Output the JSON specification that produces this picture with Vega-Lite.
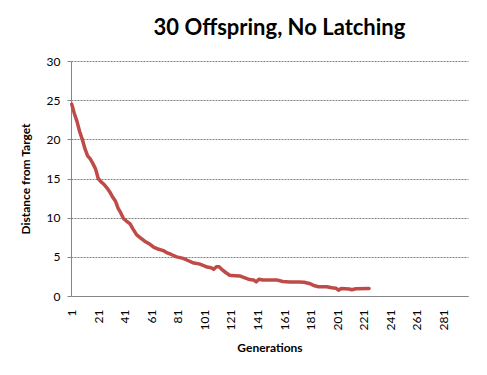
{
  "$schema": "https://vega.github.io/schema/vega-lite/v6.json",
  "width": 397,
  "height": 235,
  "autosize": "none",
  "padding": {"left": 71, "top": 61, "right": 19, "bottom": 79},
  "background": "white",
  "title": {
    "text": "30 Offspring, No Latching",
    "font": "Lato",
    "fontSize": 22,
    "fontWeight": "bold",
    "color": "#000000",
    "anchor": "middle",
    "frame": "group",
    "dx": 10,
    "offset": 15
  },
  "data": {
    "values": [
      {"gen": 1, "dist": 24.5},
      {"gen": 3, "dist": 23.3},
      {"gen": 5, "dist": 22.3},
      {"gen": 7, "dist": 21.0},
      {"gen": 9, "dist": 20.0},
      {"gen": 11, "dist": 18.8},
      {"gen": 13, "dist": 17.9},
      {"gen": 15, "dist": 17.5},
      {"gen": 17, "dist": 16.9},
      {"gen": 19, "dist": 16.2},
      {"gen": 21, "dist": 15.0},
      {"gen": 23, "dist": 14.6},
      {"gen": 25, "dist": 14.3},
      {"gen": 28, "dist": 13.7},
      {"gen": 30, "dist": 13.2},
      {"gen": 32, "dist": 12.6},
      {"gen": 34, "dist": 12.1},
      {"gen": 36, "dist": 11.2},
      {"gen": 38, "dist": 10.6},
      {"gen": 40, "dist": 9.9},
      {"gen": 42, "dist": 9.6},
      {"gen": 45, "dist": 9.2},
      {"gen": 47, "dist": 8.6},
      {"gen": 50, "dist": 7.8},
      {"gen": 53, "dist": 7.4},
      {"gen": 56, "dist": 7.0},
      {"gen": 60, "dist": 6.6},
      {"gen": 63, "dist": 6.2},
      {"gen": 66, "dist": 6.0},
      {"gen": 70, "dist": 5.8},
      {"gen": 73, "dist": 5.5},
      {"gen": 76, "dist": 5.3},
      {"gen": 80, "dist": 5.0},
      {"gen": 85, "dist": 4.8},
      {"gen": 89, "dist": 4.5},
      {"gen": 93, "dist": 4.2},
      {"gen": 97, "dist": 4.1},
      {"gen": 100, "dist": 3.9},
      {"gen": 103, "dist": 3.7},
      {"gen": 106, "dist": 3.6},
      {"gen": 108, "dist": 3.4},
      {"gen": 110, "dist": 3.75},
      {"gen": 112, "dist": 3.75},
      {"gen": 114, "dist": 3.4},
      {"gen": 117, "dist": 3.0},
      {"gen": 120, "dist": 2.65},
      {"gen": 124, "dist": 2.6},
      {"gen": 128, "dist": 2.55},
      {"gen": 131, "dist": 2.35},
      {"gen": 135, "dist": 2.1},
      {"gen": 138, "dist": 2.05},
      {"gen": 140, "dist": 1.8},
      {"gen": 142, "dist": 2.15},
      {"gen": 145, "dist": 2.05},
      {"gen": 150, "dist": 2.03},
      {"gen": 156, "dist": 2.03},
      {"gen": 160, "dist": 1.85},
      {"gen": 165, "dist": 1.8},
      {"gen": 172, "dist": 1.8},
      {"gen": 176, "dist": 1.75},
      {"gen": 180, "dist": 1.6},
      {"gen": 184, "dist": 1.3},
      {"gen": 187, "dist": 1.18},
      {"gen": 193, "dist": 1.18},
      {"gen": 197, "dist": 1.05},
      {"gen": 200, "dist": 1.0},
      {"gen": 202, "dist": 0.75},
      {"gen": 204, "dist": 0.95},
      {"gen": 210, "dist": 0.9},
      {"gen": 212, "dist": 0.8},
      {"gen": 215, "dist": 0.92},
      {"gen": 225, "dist": 0.95}
    ]
  },
  "mark": {"type": "line", "color": "#BE4B48", "strokeWidth": 3.5, "strokeCap": "round", "strokeJoin": "round"},
  "encoding": {
    "x": {
      "field": "gen",
      "type": "quantitative",
      "scale": {"domain": [0.5, 299.5], "nice": false, "zero": false},
      "axis": {
        "title": "Generations",
        "values": [1, 21, 41, 61, 81, 101, 121, 141, 161, 181, 201, 221, 241, 261, 281],
        "labelAngle": -90,
        "labelAlign": "right",
        "labelBaseline": "middle",
        "labelPadding": 13,
        "ticks": false,
        "grid": false,
        "domainColor": "#868686",
        "labelFont": "Lato",
        "labelFontSize": 12,
        "labelColor": "#000000",
        "titleFont": "Lato",
        "titleFontSize": 12,
        "titleFontWeight": "bold",
        "titleColor": "#000000",
        "titlePadding": 13
      }
    },
    "y": {
      "field": "dist",
      "type": "quantitative",
      "scale": {"domain": [0, 30], "nice": false},
      "axis": {
        "title": "Distance from Target",
        "values": [0, 5, 10, 15, 20, 25, 30],
        "tickSize": 4,
        "tickColor": "#868686",
        "domainColor": "#868686",
        "gridColor": "#808080",
        "gridDash": [2, 1],
        "gridWidth": 1,
        "labelPadding": 7,
        "labelFont": "Lato",
        "labelFontSize": 12,
        "labelColor": "#000000",
        "titleFont": "Lato",
        "titleFontSize": 12,
        "titleFontWeight": "bold",
        "titleColor": "#000000",
        "titlePadding": 14
      }
    }
  },
  "config": {"view": {"stroke": null}}
}
